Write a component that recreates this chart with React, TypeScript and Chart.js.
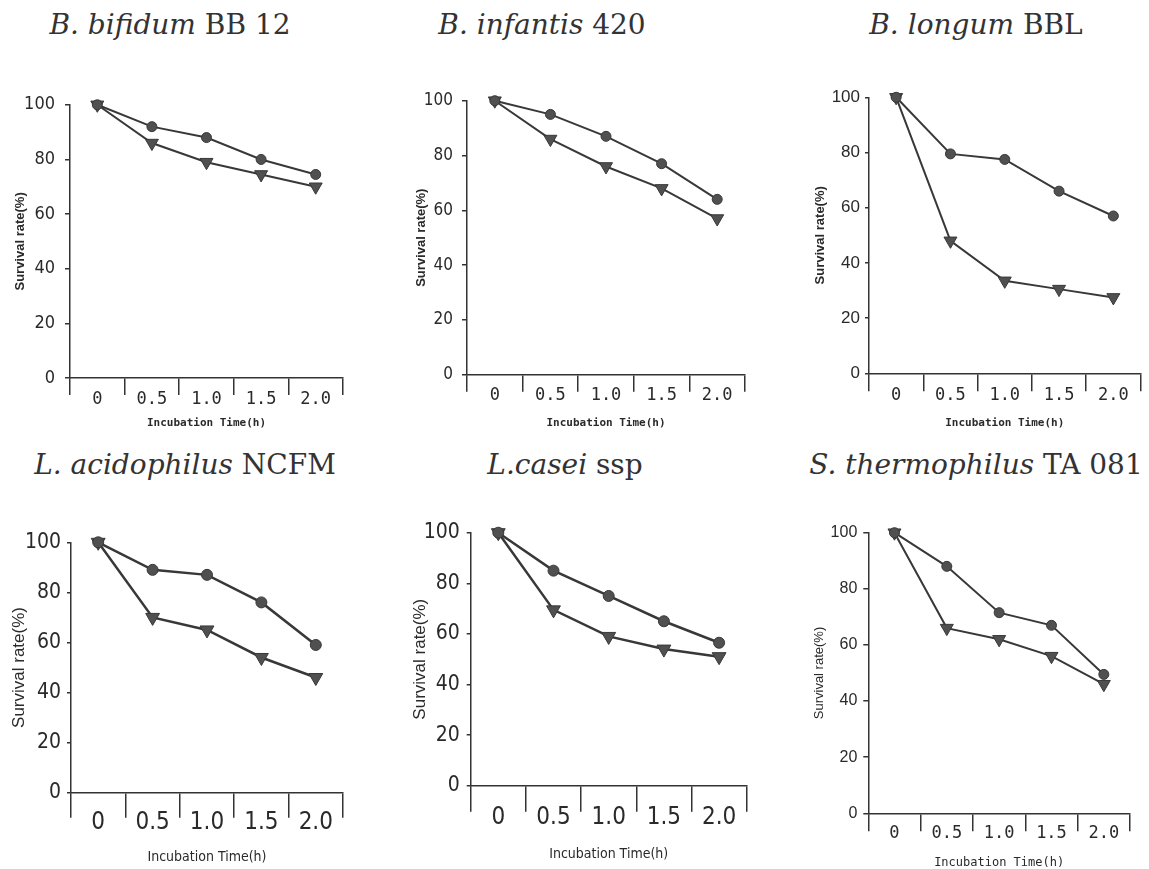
import React, { useEffect, useRef } from 'react';
import { Chart, registerables } from 'chart.js';

Chart.register(...registerables);

// ---------- data ----------
const timeLabels = ['0', '0.5', '1.0', '1.5', '2.0'];
const yAxisTitle = 'Survival rate(%)';
const xAxisTitle = 'Incubation Time(h)';

const bifidumCircle = [100, 92, 88, 80, 74.5];
const bifidumTriangle = [100, 86, 79, 74.5, 70];
const infantisCircle = [100, 95, 87, 77, 64];
const infantisTriangle = [100, 86, 76, 68, 57];
const longumCircle = [100, 79.5, 77.5, 66, 57];
const longumTriangle = [100, 48, 33.5, 30.5, 27.5];
const acidophilusCircle = [100, 89, 87, 76, 59];
const acidophilusTriangle = [100, 70, 65, 54, 46];
const caseiCircle = [100, 85, 75, 65, 56.5];
const caseiTriangle = [100, 69.5, 59, 54, 51];
const thermophilusCircle = [100, 88, 71.5, 67, 49.5];
const thermophilusTriangle = [100, 66, 62, 56, 46];

// ---------- styles ----------
const TEXT = '#2a2a2a';
const AXIS = '#333333';
const LINE = '#383838';
const MARK = '#505050';
const SANS = "'Liberation Sans', Arial, sans-serif";
const NARROW = "'Liberation Sans Narrow', 'DejaVu Sans Condensed', 'Liberation Sans', sans-serif";
const MONO = "'DejaVu Sans Mono', 'Liberation Mono', monospace";
const SERIF = "'DejaVu Serif', serif";

type Font = { family: string; size: number; weight?: string | number; lineHeight?: number };

type PanelCfg = {
  italic: string;
  roman: string;
  titleCenter: number;
  titleTop: number;
  circle: number[];
  triangle: number[];
  canvasLeft: number;
  canvasTop: number;
  canvasRight: number;
  canvasBottom: number;
  axisX: number;
  chartTop: number;
  chartBottom: number;
  chartRight: number;
  xTickFont: Font;
  yTickFont: Font;
  xTitleFont: Font;
  yTitleFont: Font;
  xTickLen: number;
  xTickPad: number;
  yTickLen: number;
  yTickPad: number;
  lineWidth: number;
  circleR: number;
  triR: number;
};

const panels: PanelCfg[] = [
  {
    italic: 'B. bifidum', roman: ' BB 12', titleCenter: 170, titleTop: 11,
    circle: bifidumCircle, triangle: bifidumTriangle,
    canvasLeft: 13, canvasTop: 84, canvasRight: 353, canvasBottom: 430,
    axisX: 70, chartTop: 104, chartBottom: 378, chartRight: 343,
    xTickFont: { family: MONO, size: 17 }, yTickFont: { family: NARROW, size: 18 },
    xTitleFont: { family: MONO, size: 11, weight: 'bold' }, yTitleFont: { family: SANS, size: 13, weight: 'bold' },
    xTickLen: 17, xTickPad: -6, yTickLen: 5, yTickPad: 10, lineWidth: 2, circleR: 5, triR: 7.5,
  },
  {
    italic: 'B. infantis', roman: ' 420', titleCenter: 542, titleTop: 11,
    circle: infantisCircle, triangle: infantisTriangle,
    canvasLeft: 414, canvasTop: 81, canvasRight: 755, canvasBottom: 430,
    axisX: 467, chartTop: 100.7, chartBottom: 374.7, chartRight: 745,
    xTickFont: { family: MONO, size: 17 }, yTickFont: { family: NARROW, size: 17 },
    xTitleFont: { family: MONO, size: 11, weight: 'bold' }, yTitleFont: { family: SANS, size: 13, weight: 'bold' },
    xTickLen: 17, xTickPad: -6, yTickLen: 5, yTickPad: 9, lineWidth: 2, circleR: 5, triR: 7.5,
  },
  {
    italic: 'B. longum', roman: ' BBL', titleCenter: 976, titleTop: 11,
    circle: longumCircle, triangle: longumTriangle,
    canvasLeft: 813, canvasTop: 77, canvasRight: 1149, canvasBottom: 430,
    axisX: 869, chartTop: 97.3, chartBottom: 373.3, chartRight: 1147,
    xTickFont: { family: MONO, size: 17 }, yTickFont: { family: SANS, size: 17 },
    xTitleFont: { family: MONO, size: 11, weight: 'bold' }, yTitleFont: { family: SANS, size: 13, weight: 'bold' },
    xTickLen: 18, xTickPad: -6, yTickLen: 4, yTickPad: 5, lineWidth: 2, circleR: 5, triR: 7.5,
  },
  {
    italic: 'L. acidophilus', roman: ' NCFM', titleCenter: 185, titleTop: 451,
    circle: acidophilusCircle, triangle: acidophilusTriangle,
    canvasLeft: 9, canvasTop: 520, canvasRight: 353, canvasBottom: 866,
    axisX: 71, chartTop: 542.3, chartBottom: 792.7, chartRight: 343,
    xTickFont: { family: NARROW, size: 24 }, yTickFont: { family: NARROW, size: 21 },
    xTitleFont: { family: NARROW, size: 14 }, yTitleFont: { family: SANS, size: 17 },
    xTickLen: 25, xTickPad: -9, yTickLen: 4, yTickPad: 6, lineWidth: 2.5, circleR: 5.5, triR: 8,
  },
  {
    italic: 'L.casei', roman: ' ssp', titleCenter: 565, titleTop: 451,
    circle: caseiCircle, triangle: caseiTriangle,
    canvasLeft: 410, canvasTop: 512, canvasRight: 757, canvasBottom: 863,
    axisX: 470.7, chartTop: 532.7, chartBottom: 785.7, chartRight: 746.7,
    xTickFont: { family: NARROW, size: 24 }, yTickFont: { family: NARROW, size: 21 },
    xTitleFont: { family: NARROW, size: 14 }, yTitleFont: { family: SANS, size: 17 },
    xTickLen: 26, xTickPad: -8, yTickLen: 4, yTickPad: 7, lineWidth: 2.5, circleR: 5.5, triR: 8,
  },
  {
    italic: 'S. thermophilus', roman: ' TA 081', titleCenter: 976, titleTop: 451,
    circle: thermophilusCircle, triangle: thermophilusTriangle,
    canvasLeft: 812, canvasTop: 512, canvasRight: 1140, canvasBottom: 869,
    axisX: 868.3, chartTop: 532.7, chartBottom: 813.3, chartRight: 1130,
    xTickFont: { family: MONO, size: 17 }, yTickFont: { family: SANS, size: 16 },
    xTitleFont: { family: MONO, size: 12, lineHeight: 1 }, yTitleFont: { family: SANS, size: 13 },
    xTickLen: 18, xTickPad: -8, yTickLen: 5, yTickPad: 6, lineWidth: 2, circleR: 5, triR: 7.5,
  },
];

function Panel({ cfg }: { cfg: PanelCfg }) {
  const ref = useRef<HTMLCanvasElement>(null);
  const width = cfg.canvasRight - cfg.canvasLeft;
  const height = cfg.canvasBottom - cfg.canvasTop;

  useEffect(() => {
    if (!ref.current) return;
    const yW = cfg.axisX - cfg.canvasLeft;
    const xH = cfg.canvasBottom - cfg.chartBottom;
    const padTop = cfg.chartTop - cfg.canvasTop;
    const padRight = cfg.canvasRight - cfg.chartRight;
    const common = {
      borderColor: LINE,
      borderWidth: cfg.lineWidth,
      pointBackgroundColor: MARK,
      pointBorderColor: LINE,
      pointBorderWidth: 1,
      tension: 0,
      fill: false,
      clip: false as const,
    };
    const chart = new Chart(ref.current, {
      type: 'line',
      data: {
        labels: timeLabels,
        datasets: [
          { ...common, label: 'circle', data: cfg.circle, pointStyle: 'circle', pointRadius: cfg.circleR },
          { ...common, label: 'triangle', data: cfg.triangle, pointStyle: 'triangle', pointRotation: 180, pointRadius: cfg.triR },
        ],
      },
      options: {
        responsive: false,
        animation: false,
        devicePixelRatio: 1,
        layout: { padding: { top: padTop, right: padRight, bottom: 0, left: 0 } },
        plugins: { legend: { display: false }, tooltip: { enabled: false }, title: { display: false } },
        scales: {
          x: {
            type: 'category',
            offset: true,
            grid: { offset: true, drawOnChartArea: false, drawTicks: true, tickLength: cfg.xTickLen, color: AXIS, lineWidth: 1.5 },
            border: { display: true, color: AXIS, width: 1.5 },
            ticks: { font: cfg.xTickFont as any, color: TEXT, padding: cfg.xTickPad, autoSkip: false, maxRotation: 0, minRotation: 0 },
            title: { display: true, text: xAxisTitle, font: cfg.xTitleFont as any, color: TEXT, padding: 0 },
            afterFit: (s: any) => { s.height = xH; },
          },
          y: {
            min: 0,
            max: 100,
            ticks: { stepSize: 20, font: cfg.yTickFont as any, color: TEXT, padding: cfg.yTickPad },
            grid: { drawOnChartArea: false, drawTicks: true, tickLength: cfg.yTickLen, color: AXIS, lineWidth: 1.5 },
            border: { display: true, color: AXIS, width: 1.5 },
            title: { display: true, text: yAxisTitle, font: cfg.yTitleFont as any, color: TEXT, padding: 0 },
            afterFit: (s: any) => { s.width = yW; },
          },
        },
      },
    });
    return () => chart.destroy();
  }, [cfg]);

  return (
    <>
      <div
        style={{
          position: 'absolute',
          left: cfg.titleCenter - 200,
          top: cfg.titleTop,
          width: 400,
          textAlign: 'center',
          fontFamily: SERIF,
          fontSize: 28,
          lineHeight: '28px',
          color: '#333',
          whiteSpace: 'pre',
        }}
      >
        <i>{cfg.italic}</i>
        {cfg.roman}
      </div>
      <canvas
        ref={ref}
        width={width}
        height={height}
        style={{ position: 'absolute', left: cfg.canvasLeft, top: cfg.canvasTop, width, height }}
      />
    </>
  );
}

export default function App() {
  return (
    <div
      style={{
        position: 'absolute',
        left: 0,
        top: 0,
        width: 1149,
        height: 869,
        overflow: 'hidden',
        background: '#ffffff',
      }}
    >
      {panels.map((p, i) => (
        <Panel key={i} cfg={p} />
      ))}
    </div>
  );
}
